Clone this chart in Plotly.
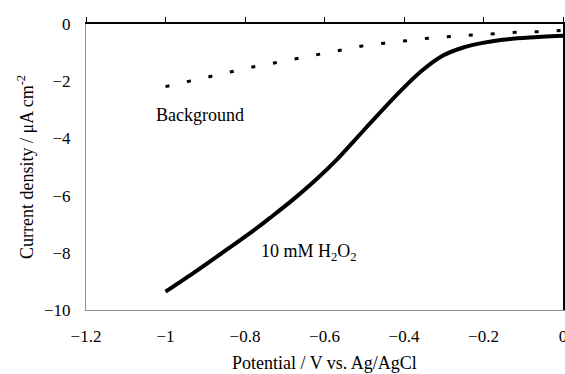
import plotly.graph_objects as go

# H2O2 curve
h2o2_x = [-1.0, -0.931, -0.847, -0.763, -0.738, -0.680, -0.621, -0.571, -0.529, -0.495,
          -0.454, -0.403, -0.353, -0.303, -0.253, -0.202, -0.152, -0.085, 0.0]
h2o2_y = [-9.36, -8.72, -7.90, -7.06, -6.79, -6.15, -5.44, -4.77, -4.14, -3.62,
          -3.00, -2.26, -1.61, -1.11, -0.83, -0.66, -0.55, -0.47, -0.41]

# Background curve
bg_x = [-1.0, -0.947, -0.893, -0.838, -0.784, -0.730, -0.674, -0.617, -0.561,
        -0.505, -0.449, -0.395, -0.340, -0.284, -0.228, -0.173, -0.119, -0.064, 0.0]
bg_y = [-2.19, -2.02, -1.84, -1.67, -1.51, -1.37, -1.22, -1.06, -0.91,
        -0.77, -0.67, -0.58, -0.50, -0.44, -0.38, -0.33, -0.29, -0.27, -0.22]

x_ticks = [-1.2, -1.0, -0.8, -0.6, -0.4, -0.2, 0.0]
x_tick_labels = ["\u22121.2", "\u22121", "\u22120.8", "\u22120.6", "\u22120.4", "\u22120.2", "0"]
y_ticks = [0, -2, -4, -6, -8, -10]
y_tick_labels = ["0", "\u22122", "\u22124", "\u22126", "\u22128", "\u221210"]

FONT = "Liberation Serif, Times New Roman, serif"
TICKFONT = dict(family=FONT, size=17, color="black")
TXT = dict(family=FONT, size=18, color="black")

fig = go.Figure()
fig.add_trace(go.Scatter(x=bg_x, y=bg_y, mode="lines",
                         line=dict(color="black", width=3, dash="4px,18px"),
                         showlegend=False, hoverinfo="skip"))
fig.add_trace(go.Scatter(x=h2o2_x, y=h2o2_y, mode="lines",
                         line=dict(color="black", width=4, shape="spline", smoothing=0.8),
                         showlegend=False, hoverinfo="skip"))
fig.add_trace(go.Scatter(x=[None], y=[None], xaxis="x2", yaxis="y2", showlegend=False,
                         hoverinfo="skip"))

fig.update_layout(
    width=565, height=374,
    margin=dict(l=86, r=2, t=24, b=64, autoexpand=False),
    paper_bgcolor="white", plot_bgcolor="white",
    font=dict(family=FONT, size=17, color="black"),
    xaxis=dict(range=[-1.2, 0], tickvals=x_ticks, ticktext=x_tick_labels,
               tickfont=TICKFONT, ticklabeloverflow="allow",
               showgrid=False, zeroline=False, showline=True, linecolor="#8c8c8c",
               linewidth=1, ticks="", ticklabelstandoff=11, automargin=False),
    yaxis=dict(range=[-10, 0], tickvals=y_ticks, ticktext=y_tick_labels,
               tickfont=TICKFONT, ticklabeloverflow="allow",
               showgrid=False, zeroline=False, showline=True, linecolor="#8c8c8c",
               linewidth=1, ticks="", ticklabelstandoff=11, automargin=False),
    xaxis2=dict(overlaying="x", side="top", range=[-1.2, 0], tickvals=x_ticks,
                showticklabels=False, showgrid=False, zeroline=False, showline=True,
                linecolor="black", linewidth=1.5, ticks="outside", ticklen=5,
                tickcolor="black", tickwidth=1, automargin=False),
    yaxis2=dict(overlaying="y", side="right", range=[-10, 0], showticklabels=False,
                showgrid=False, zeroline=False, showline=True, linecolor="black",
                linewidth=1.5, ticks="", automargin=False),
    annotations=[
        dict(text="Background", x=-0.914, y=-3.18, xref="x", yref="y",
             xanchor="center", yanchor="middle", showarrow=False, font=TXT),
        dict(text="10 mM H<sub>2</sub>O<sub>2</sub>", x=-0.638, y=-8.0, xref="x", yref="y",
             xanchor="center", yanchor="middle", showarrow=False, font=TXT),
        dict(text="Potential / V vs. Ag/AgCl", x=0.5, y=0, xref="paper", yref="paper",
             xanchor="center", yanchor="middle", yshift=-53, showarrow=False, font=TXT),
        dict(text="Current density / \u03bcA cm<sup>-2</sup>", x=0, y=0.5, xref="paper",
             yref="paper", xanchor="center", yanchor="middle",
             xshift=-61, textangle=-90, showarrow=False, font=TXT),
    ],
)
fig.write_html("out.html", config={"displayModeBar": False},
               post_script="document.body.style.margin='0';document.body.style.padding='0';")
